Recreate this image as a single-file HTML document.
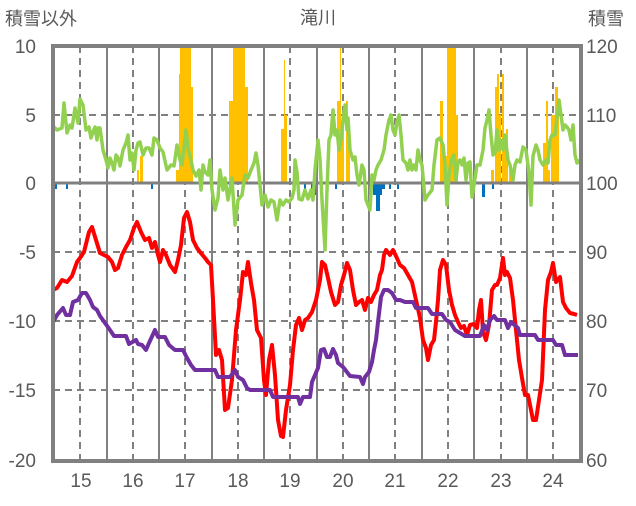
<!DOCTYPE html>
<html><head><meta charset="utf-8"><style>
body{margin:0;background:#fff;}
svg text{font-family:"Liberation Sans","Noto Sans CJK JP",sans-serif;fill:#595959;}
</style></head><body>
<svg width="636" height="501" viewBox="0 0 636 501" xmlns="http://www.w3.org/2000/svg">
<rect width="636" height="501" fill="#fff"/>
<g stroke="#808080" stroke-width="2">
<path d="M107 46V461M159 46V461M212 46V461M264 46V461M317 46V461M369 46V461M422 46V461M474 46V461M527 46V461"/>
</g>
<g stroke="#808080" stroke-width="2" stroke-dasharray="7,5">
<path d="M80 46V461M133 46V461M185 46V461M238 46V461M290 46V461M343 46V461M395 46V461M448 46V461M501 46V461M553 46V461"/>
<path d="M53 115H581M53 252H581M53 321H581M53 390H581"/>
</g>
<g fill="#FFC000">
<rect x="137" y="170" width="2" height="13"/><rect x="140" y="156" width="3" height="27"/>
<rect x="176" y="170" width="3" height="13"/><rect x="179" y="74" width="1" height="109"/><rect x="180" y="46" width="11" height="137"/><rect x="191" y="87" width="2" height="96"/>
<rect x="229" y="101" width="4" height="82"/><rect x="233" y="46" width="12" height="137"/><rect x="245" y="87" width="3" height="96"/>
<rect x="281" y="129" width="3" height="54"/><rect x="284" y="60" width="1" height="123"/><rect x="285" y="115" width="2" height="68"/>
<rect x="337" y="101" width="3" height="82"/><rect x="340" y="46" width="1" height="137"/><rect x="341" y="129" width="3" height="54"/><rect x="346" y="101" width="2" height="82"/><rect x="348" y="129" width="2" height="54"/>
<rect x="440" y="101" width="3" height="82"/><rect x="443" y="156" width="4" height="27"/><rect x="447" y="46" width="9" height="137"/><rect x="456" y="115" width="2" height="68"/>
<rect x="491" y="170" width="3" height="13"/><rect x="495" y="87" width="2" height="96"/><rect x="497" y="74" width="2" height="109"/><rect x="499" y="115" width="2" height="68"/><rect x="502" y="74" width="2" height="109"/><rect x="504" y="138" width="2" height="45"/><rect x="506" y="129" width="2" height="54"/><rect x="509" y="170" width="3" height="13"/>
<rect x="543" y="143" width="3" height="40"/><rect x="546" y="101" width="2" height="82"/><rect x="548" y="170" width="2" height="13"/><rect x="551" y="115" width="4" height="68"/><rect x="555" y="87" width="3" height="96"/><rect x="558" y="101" width="1" height="82"/>
</g>
<g fill="#0070C0">
<rect x="55" y="183" width="2" height="6"/><rect x="66" y="183" width="2" height="6"/><rect x="151" y="183" width="2" height="6"/>
<rect x="304" y="183" width="2" height="6"/><rect x="311" y="183" width="2" height="12"/><rect x="313" y="183" width="3" height="12"/><rect x="335" y="183" width="2" height="6"/>
<rect x="373" y="183" width="3" height="12"/><rect x="376" y="183" width="4" height="28"/><rect x="380" y="183" width="2" height="12"/><rect x="382" y="183" width="3" height="6"/><rect x="389" y="183" width="2" height="6"/><rect x="397" y="183" width="2" height="6"/>
<rect x="482" y="183" width="3" height="14"/><rect x="492" y="183" width="2" height="6"/>
</g>
<path d="M53 183H581" stroke="#808080" stroke-width="3"/>
<polyline fill="none" stroke="#92D050" stroke-width="3.5" stroke-linejoin="round" points="53,126 57,130 62,128 64,103 67,133 70,125 72,128 75,108 78,123 80,99 83,105 86,130 89,127 91,138 93,132 95,127 97,140 98,128 100,128 103,150 106,160 108,168 110,158 112,163 114,170 116,155 118,158 120,166 123,150 126,143 128,135 130,160 132,153 134,170 136,150 138,143 140,142 143,155 146,148 149,148 152,155 154,138 157,140 160,148 163,152 167,170 171,165 174,166 177,145 180,160 182,165 186,130 188,148 191,160 193,170 196,176 199,170 201,190 203,165 205,172 208,175 210,160 212,190 215,210 218,198 220,170 223,190 225,178 228,200 232,178 235,225 238,200 242,195 245,175 248,178 251,170 254,163 256,153 258,165 260,185 262,205 265,195 268,207 271,200 274,202 277,220 280,200 283,205 286,200 289,202 292,198 294,190 295,160 297,172 299,199 302,200 305,190 308,199 311,190 313,200 315,170 318,140 320,160 322,200 325,250 327,190 329,140 331,135 333,110 335,135 337,130 339,150 341,140 343,120 345,105 347,130 348,118 350,150 353,160 355,157 357,175 359,185 362,165 364,170 366,200 368,205 370,210 372,175 374,180 376,170 378,165 381,160 384,150 386,135 389,120 391,115 393,130 395,135 397,122 399,115 401,135 403,160 406,163 408,170 410,160 412,170 414,165 416,170 418,150 420,160 422,165 425,200 428,195 432,190 434,165 437,140 440,138 443,145 445,165 447,205 449,175 452,158 454,155 456,180 458,162 460,160 462,165 464,158 466,180 468,163 470,162 472,197 474,185 477,165 480,165 483,150 485,128 487,120 489,110 491,135 493,155 495,153 497,130 499,150 501,140 503,150 505,135 508,160 510,165 513,180 515,165 517,160 520,162 523,147 526,150 529,173 531,205 533,156 536,145 538,150 540,160 543,165 546,160 548,163 550,140 552,135 555,135 557,118 559,100 561,115 563,130 565,125 567,127 569,130 571,140 573,125 575,155 577,163 580,160"/>
<polyline fill="none" stroke="#FF0000" stroke-width="4" stroke-linejoin="round" points="53,290 57,288 62,280 67,282 72,276 77,262 80,258 84,252 89,232 92,227 96,240 100,253 104,255 108,257 112,262 115,270 118,268 122,255 126,247 130,240 134,228 137,222 141,232 145,240 149,238 152,248 155,242 158,255 160,262 163,250 166,255 170,265 175,272 178,260 181,245 184,218 187,212 190,222 193,240 197,248 200,252 205,258 208,262 211,265 213,300 216,355 219,350 222,360 225,410 228,408 232,380 236,330 240,300 243,272 246,275 248,262 251,283 254,300 257,330 261,338 264,380 266,395 269,360 272,345 275,375 278,420 281,436 283,437 286,410 290,385 293,350 296,325 299,318 302,330 305,320 308,318 312,312 316,300 320,280 322,262 325,265 328,278 331,292 335,305 338,302 341,285 344,275 347,263 350,270 353,290 356,305 359,302 362,300 365,310 368,298 371,302 374,295 377,290 380,275 382,270 384,255 386,250 390,255 393,250 396,256 400,265 404,268 408,275 412,282 416,300 420,318 423,340 426,348 428,360 431,345 434,340 436,322 438,300 440,270 443,260 446,265 449,290 452,305 455,315 458,322 461,328 464,326 467,335 470,325 474,324 477,328 479,310 481,300 483,332 486,340 489,325 492,290 495,285 497,285 500,278 503,258 505,275 507,272 510,278 513,300 516,330 519,360 522,378 525,395 528,395 531,410 533,420 536,420 539,400 542,380 545,310 548,280 551,272 553,263 556,282 560,277 563,302 566,308 570,313 574,314 577,315"/>
<polyline fill="none" stroke="#7030A0" stroke-width="4" stroke-linejoin="round" points="53,322 57,315 63,308 66,315 70,315 73,302 78,300 82,293 86,293 90,300 93,307 97,310 100,316 105,323 110,330 114,336 118,336 126,336 129,344 136,340 138,344 142,345 146,350 149,343 155,330 158,337 165,337 169,345 175,350 183,350 187,358 191,365 195,370 215,370 218,377 230,377 235,370 238,377 243,380 247,388 250,390 270,390 273,397 298,397 300,404 303,397 310,397 312,382 315,375 318,368 321,350 324,349 327,357 330,357 333,349 336,355 338,363 343,367 350,376 360,377 363,384 365,377 369,372 372,362 374,350 376,340 378,322 381,297 384,290 388,290 392,293 396,300 400,300 405,302 413,302 416,308 428,308 432,314 442,314 446,320 450,322 455,330 460,333 465,336 480,336 484,325 487,330 490,320 494,316 497,320 505,320 508,328 511,322 518,328 520,335 535,335 538,340 553,340 556,345 562,345 565,355 578,355"/>
<rect x="53" y="46" width="528" height="415" fill="none" stroke="#808080" stroke-width="4"/>
<g font-size="19" text-anchor="end">
<text x="36" y="53">10</text><text x="36" y="122">5</text><text x="36" y="190">0</text><text x="36" y="259">-5</text><text x="36" y="328">-10</text><text x="36" y="397">-15</text><text x="36" y="467">-20</text>
</g>
<g font-size="19" text-anchor="start">
<text x="586" y="53">120</text><text x="586" y="122">110</text><text x="586" y="190">100</text><text x="586" y="259">90</text><text x="586" y="328">80</text><text x="586" y="397">70</text><text x="586" y="467">60</text>
</g>
<g font-size="19" text-anchor="middle">
<text x="81" y="487">15</text><text x="133" y="487">16</text><text x="185" y="487">17</text><text x="238" y="487">18</text><text x="290" y="487">19</text><text x="343" y="487">20</text><text x="395" y="487">21</text><text x="448" y="487">22</text><text x="501" y="487">23</text><text x="553" y="487">24</text>
</g>
<text x="5" y="25" font-size="18">積雪以外</text>
<text x="318" y="24" font-size="18" text-anchor="middle">滝川</text>
<text x="588" y="25" font-size="18">積雪</text>
</svg>
</body></html>
